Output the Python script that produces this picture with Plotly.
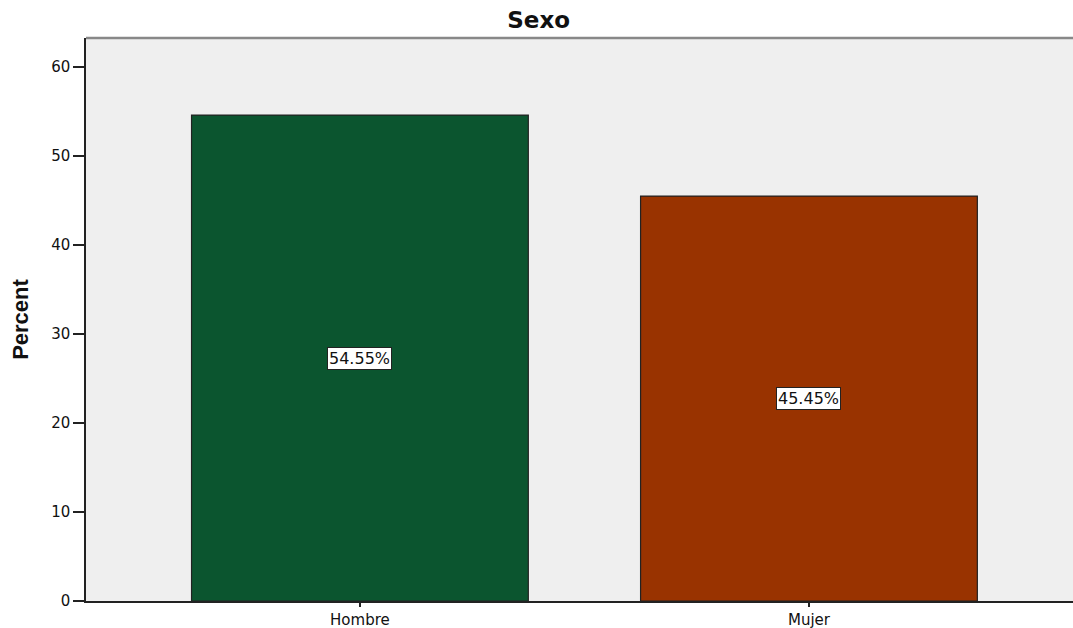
import plotly.graph_objects as go

categories = ["Hombre", "Mujer"]
percents = [54.55, 45.45]
bar_colors = ["#0b552f", "#993300"]
label_texts = ["54.55%", "45.45%"]
y_ticks = [0, 10, 20, 30, 40, 50, 60]

FONT = "DejaVu Sans, Liberation Sans, Arial"

fig = go.Figure()
fig.add_trace(go.Bar(
    x=[0, 1], y=percents, width=0.75,
    marker=dict(color=bar_colors, line=dict(color="#222222", width=1.2)),
    hoverinfo="skip",
))

for i, (v, t) in enumerate(zip(percents, label_texts)):
    fig.add_annotation(
        x=i, y=v / 2, text=t, showarrow=False,
        font=dict(family=FONT, size=16, color="#111111"),
        bgcolor="white", bordercolor="#222222", borderwidth=1, borderpad=1,
    )

fig.add_shape(type="line", xref="paper", yref="paper", x0=0, x1=1, y0=1, y1=1,
              line=dict(color="#888888", width=2.5))

fig.update_layout(
    width=1073, height=628,
    margin=dict(l=86, r=0, t=38, b=27),
    paper_bgcolor="white", plot_bgcolor="#efefef",
    showlegend=False,
    title=dict(text="<b>Sexo</b>", x=0.502, xref="container", xanchor="center",
               y=0.968, yref="container", yanchor="middle", automargin=False,
               font=dict(family=FONT, size=23, color="#111111")),
    xaxis=dict(range=[-0.61, 1.588], tickmode="array", tickvals=[0, 1], ticktext=categories,
               automargin=False,
               showgrid=False, zeroline=False, showline=True, linecolor="#222222", linewidth=1.5,
               ticks="outside", ticklen=4, tickcolor="#222222", tickwidth=1.5,
               tickfont=dict(family=FONT, size=15, color="#111111")),
    yaxis=dict(range=[0, 63.2], tickmode="array", tickvals=y_ticks,
               automargin=False,
               showgrid=False, zeroline=False, showline=True, linecolor="#222222", linewidth=1.5,
               ticks="outside", ticklen=11, tickcolor="#222222", tickwidth=1.5,
               tickfont=dict(family=FONT, size=15, color="#111111"),
               title=dict(text="<b>Percent</b>", standoff=16,
                          font=dict(family="Liberation Sans Narrow, Liberation Sans, Arial", size=22, color="#111111"))),
)

fig.write_html("out.html")
